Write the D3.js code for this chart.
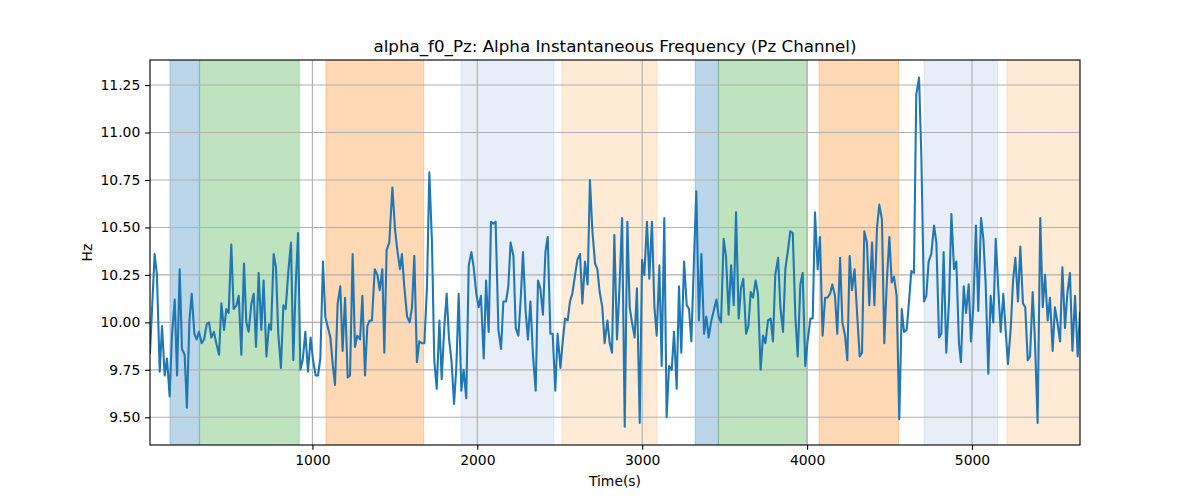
<!DOCTYPE html>
<html>
<head>
<meta charset="utf-8">
<script src="https://cdn.jsdelivr.net/npm/d3@7"></script>
<style>
  html, body { margin: 0; padding: 0; background: #fff; }
  svg { display: block; font-family: "DejaVu Sans", sans-serif; }
</style>
</head>
<body>
<svg id="chart" width="1200" height="500"></svg>
<script>
const titleText = "alpha_f0_Pz: Alpha Instantaneous Frequency (Pz Channel)";
const xLabel = "Time(s)";
const yLabel = "Hz";

const xTicks = [1000, 2000, 3000, 4000, 5000];
const yTicks = [9.50, 9.75, 10.00, 10.25, 10.50, 10.75, 11.00, 11.25];
const xDomain = [15, 5655];
const yDomain = [9.354, 11.382];

// shaded intervals: [start, end, colour]
const spanStarts = [136, 316, 1082, 1901, 2513, 3322, 3462, 4073, 4709, 5212];
const spanEnds   = [314, 920, 1675, 2465, 3090, 3462, 4001, 4555, 5156, 5700];
const spanColors = ["#1f77b4", "#2ca02c", "#ff7f0e", "#aec7e8", "#ffbb78",
                    "#1f77b4", "#2ca02c", "#ff7f0e", "#aec7e8", "#ffbb78"];

const times = [
  15, 43, 57, 74, 88, 104, 118, 134, 148, 165, 179, 195, 209, 225, 239, 254, 268, 284, 298, 312,
  328, 343, 359, 373, 387, 403, 417, 434, 448, 464, 478, 492, 508, 522, 539, 553, 569, 585, 599, 613,
  630, 644, 658, 674, 690, 704, 721,
  737, 749, 765, 779, 793, 809, 824, 838, 854, 870, 884, 898, 913, 927, 941, 957, 973, 989, 1004, 1020,
  1034, 1048, 1064, 1078, 1092, 1109, 1123, 1137, 1153, 1169, 1183, 1198, 1214, 1228, 1244, 1258, 1272, 1289, 1303, 1319,
  1333, 1347, 1361, 1378, 1394, 1408, 1424, 1436,
  1450, 1466, 1485, 1501, 1515, 1531, 1543, 1557, 1574, 1590, 1604, 1618, 1634, 1648, 1665, 1679, 1695, 1709, 1725, 1739,
  1754, 1770, 1784, 1800, 1814, 1828, 1844, 1859, 1873, 1887, 1903, 1917, 1933, 1948, 1964, 1978, 1994, 2008, 2022, 2039,
  2053, 2069, 2083, 2097, 2111,
  2128, 2144, 2158, 2174, 2188, 2202, 2219, 2233, 2249, 2263, 2277, 2293, 2307, 2322, 2338, 2354, 2368, 2382, 2398, 2413,
  2427, 2443, 2457, 2473, 2487, 2504, 2518, 2532, 2548, 2562, 2576, 2593, 2607, 2623, 2637, 2653, 2669, 2683, 2698, 2714,
  2728, 2742, 2758, 2772, 2789, 2803, 2817, 2831,
  2847, 2861, 2878, 2894, 2910, 2924, 2938, 2954, 2968, 2985, 2999, 3013, 3029, 3043, 3059, 3074, 3088, 3104, 3118, 3134,
  3148, 3163, 3179, 3193, 3209, 3223, 3237, 3254, 3270, 3284, 3298, 3314, 3328, 3344, 3359, 3375, 3389, 3403, 3417, 3433,
  3450, 3464, 3478, 3494, 3508, 3524,
  3539, 3555, 3569, 3585, 3599, 3613, 3630, 3644, 3658, 3672, 3688, 3702, 3718, 3733, 3747, 3763, 3779, 3793, 3807, 3824,
  3838, 3854, 3868, 3884, 3898, 3913, 3929, 3943, 3959, 3973, 3989, 4003, 4020, 4034, 4048, 4064, 4078, 4094, 4109, 4123,
  4139, 4153, 4169, 4183, 4200, 4214, 4230,
  4244, 4258, 4272, 4288, 4303, 4319, 4333, 4347, 4363, 4377, 4394, 4408, 4424, 4438, 4454, 4468, 4485, 4499, 4513, 4527,
  4543, 4559, 4574, 4588, 4604, 4618, 4632, 4648, 4662, 4679, 4693, 4709, 4723, 4737, 4753, 4770, 4784, 4800, 4814, 4828,
  4844, 4861, 4875, 4891, 4905, 4921,
  4933, 4950, 4964, 4980, 4994, 5008, 5024, 5038, 5055, 5069, 5083, 5099, 5113, 5129, 5144, 5160, 5174, 5190, 5204, 5218,
  5235, 5249, 5263, 5279, 5293, 5309, 5323, 5338, 5352, 5368, 5382, 5398, 5414, 5429, 5443, 5459, 5473, 5489, 5503, 5518,
  5534, 5548, 5564, 5578, 5594, 5609, 5625, 5641, 5655
];

const hz = [
  9.84, 10.36, 10.25, 9.74, 9.98, 9.72, 9.81, 9.61, 9.93, 10.12, 9.72, 10.28, 9.86, 9.83, 9.55, 10.01, 10.15, 9.94, 9.91, 9.95,
  9.89, 9.91, 9.99, 10.00, 9.92, 9.95, 9.89, 9.83, 10.10, 9.96, 10.07, 10.05, 10.41, 10.07, 10.09, 10.14, 9.83, 10.31, 10.00, 9.95,
  10.10, 10.15, 9.87, 10.26, 9.96, 10.22, 9.82,
  9.99, 9.96, 10.36, 10.29, 9.94, 9.76, 10.09, 10.07, 10.27, 10.42, 9.80, 10.18, 10.47, 9.75, 9.80, 9.95, 9.74, 9.92, 9.80, 9.72,
  9.72, 9.81, 10.32, 10.03, 9.98, 9.92, 9.78, 9.67, 10.10, 10.19, 9.85, 10.13, 9.71, 9.72, 10.36, 9.87, 9.93, 9.91, 10.14, 9.72,
  9.98, 10.01, 10.01, 10.28, 10.25, 10.17, 10.28, 9.84,
  10.38, 10.42, 10.71, 10.49, 10.38, 10.28, 10.36, 10.19, 10.03, 10.00, 10.08, 10.35, 9.79, 9.90, 9.89, 9.89, 10.19, 10.79, 10.42, 9.80,
  9.65, 10.01, 9.70, 9.98, 10.15, 9.92, 9.79, 9.57, 9.77, 10.15, 9.64, 9.75, 9.60, 10.30, 10.37, 10.29, 10.15, 10.08, 10.14, 9.81,
  10.22, 9.95, 10.53, 10.52, 10.53,
  9.96, 9.86, 10.11, 10.11, 10.19, 10.42, 10.35, 9.97, 9.93, 10.12, 10.37, 10.06, 9.91, 10.11, 9.82, 9.64, 10.22, 10.18, 10.04, 10.37,
  10.45, 9.94, 9.94, 9.64, 9.94, 9.76, 9.90, 10.02, 10.01, 10.11, 10.15, 10.25, 10.33, 10.36, 10.10, 10.32, 10.20, 10.75, 10.48, 10.31,
  10.28, 10.16, 10.08, 9.89, 10.01, 9.89, 9.84, 10.46,
  9.91, 10.16, 10.55, 9.45, 10.53, 10.08, 10.00, 9.92, 10.18, 9.47, 10.33, 10.25, 10.53, 10.23, 10.53, 10.08, 9.93, 10.30, 9.77, 10.55,
  9.50, 9.77, 9.75, 9.95, 9.65, 10.19, 9.84, 10.32, 10.09, 10.07, 9.90, 10.33, 10.69, 10.01, 10.36, 9.94, 10.03, 9.92, 10.00, 10.06,
  10.12, 10.03, 10.00, 10.44, 10.35, 10.04,
  10.30, 10.09, 10.58, 10.02, 10.18, 10.23, 9.94, 9.98, 10.16, 10.13, 10.22, 10.15, 9.75, 9.93, 9.89, 10.01, 10.02, 9.90, 10.25, 10.34,
  10.08, 9.95, 10.28, 10.38, 10.48, 10.47, 10.03, 9.82, 10.20, 10.26, 9.77, 9.90, 10.02, 10.02, 10.58, 10.28, 10.45, 9.93, 10.13, 10.13,
  10.15, 10.20, 10.14, 9.94, 10.34, 10.00, 9.93,
  9.80, 10.35, 10.17, 10.28, 10.05, 9.82, 9.84, 10.48, 10.42, 10.09, 10.42, 10.09, 10.50, 10.62, 10.54, 9.89, 10.24, 10.45, 10.21, 10.24,
  10.14, 9.49, 10.07, 9.95, 9.96, 10.11, 10.27, 10.26, 11.20, 11.29, 10.87, 10.11, 10.14, 10.32, 10.36, 10.51, 10.42, 9.92, 9.94, 10.37,
  9.84, 10.12, 10.57, 10.28, 10.32, 9.89,
  9.79, 10.19, 10.05, 10.20, 9.90, 10.08, 10.51, 10.06, 10.55, 10.44, 10.20, 9.73, 10.14, 10.00, 10.44, 10.17, 9.95, 10.15, 9.96, 9.78,
  9.97, 10.22, 10.34, 10.11, 10.40, 10.10, 10.08, 9.80, 9.82, 10.16, 9.90, 9.47, 10.55, 10.08, 10.25, 10.01, 10.13, 9.85, 10.08, 10.00,
  9.90, 10.29, 9.97, 10.15, 10.26, 9.85, 10.14, 9.82, 10.05
];

const W = 1200, H = 500;
const margin = { left: 150, right: 120, top: 60, bottom: 55 };
const pw = W - margin.left - margin.right;   // 930
const ph = H - margin.top - margin.bottom;   // 385
const pt = 100 / 72; // points to pixels

const svg = d3.select("#chart");
const x = d3.scaleLinear().domain(xDomain).range([margin.left, margin.left + pw]);
const y = d3.scaleLinear().domain(yDomain).range([margin.top + ph, margin.top]);

svg.append("defs").append("clipPath").attr("id", "clip")
  .append("rect").attr("x", margin.left).attr("y", margin.top).attr("width", pw).attr("height", ph);

const plot = svg.append("g").attr("clip-path", "url(#clip)");

// spans
const spans = spanStarts.map((s, i) => ({ s, e: spanEnds[i], c: spanColors[i] }));
plot.append("g").selectAll("rect").data(spans).join("rect")
  .attr("x", d => x(d.s))
  .attr("width", d => x(d.e) - x(d.s))
  .attr("y", margin.top - 5)
  .attr("height", ph + 10)
  .attr("fill", d => d.c)
  .attr("fill-opacity", 0.3)
  .attr("stroke", d => d.c)
  .attr("stroke-opacity", 0.3)
  .attr("stroke-width", 1);

// grid
const grid = plot.append("g");
grid.selectAll("line.gx").data(xTicks).join("line")
  .attr("x1", d => x(d)).attr("x2", d => x(d))
  .attr("y1", margin.top).attr("y2", margin.top + ph)
  .attr("stroke", "#b0b0b0").attr("stroke-width", 0.8 * pt);
grid.selectAll("line.gy").data(yTicks).join("line")
  .attr("x1", margin.left).attr("x2", margin.left + pw)
  .attr("y1", d => y(d)).attr("y2", d => y(d))
  .attr("stroke", "#b0b0b0").attr("stroke-width", 0.8 * pt);

// line
const pts = times.map((t, i) => [t, hz[i]]);
plot.append("path")
  .datum(pts)
  .attr("fill", "none")
  .attr("stroke", "#1f77b4")
  .attr("stroke-width", 1.5 * pt)
  .attr("stroke-linejoin", "round")
  .attr("stroke-linecap", "square")
  .attr("d", d3.line().x(d => x(d[0])).y(d => y(d[1])));

// axes
const xAxis = d3.axisBottom(x).tickValues(xTicks).tickFormat(d3.format("d")).tickSize(3.5 * pt).tickPadding(3.5 * pt);
const yAxis = d3.axisLeft(y).tickValues(yTicks).tickFormat(d3.format(".2f")).tickSize(3.5 * pt).tickPadding(3.5 * pt);

const gx = svg.append("g").attr("transform", `translate(0,${margin.top + ph})`).call(xAxis);
const gy = svg.append("g").attr("transform", `translate(${margin.left},0)`).call(yAxis);
[gx, gy].forEach(g => {
  g.select(".domain").remove();
  g.selectAll(".tick line").attr("stroke", "#000").attr("stroke-width", 0.8 * pt);
  g.selectAll(".tick text").attr("fill", "#000")
    .style("font-family", "'DejaVu Sans', sans-serif").style("font-size", "13.9px");
});

// frame
svg.append("rect")
  .attr("x", margin.left).attr("y", margin.top).attr("width", pw).attr("height", ph)
  .attr("fill", "none").attr("stroke", "#000").attr("stroke-width", 0.8 * pt);

// title & labels
svg.append("text").attr("x", margin.left + pw / 2).attr("y", 52)
  .attr("text-anchor", "middle").style("font-size", "16.7px").attr("fill", "#000").text(titleText);
svg.append("text").attr("x", margin.left + pw / 2).attr("y", 486)
  .attr("text-anchor", "middle").style("font-size", "13.9px").attr("fill", "#000").text(xLabel);
svg.append("text").attr("transform", `translate(92,${margin.top + ph / 2}) rotate(-90)`)
  .attr("text-anchor", "middle").style("font-size", "13.9px").attr("fill", "#000").text(yLabel);
</script>
</body>
</html>
